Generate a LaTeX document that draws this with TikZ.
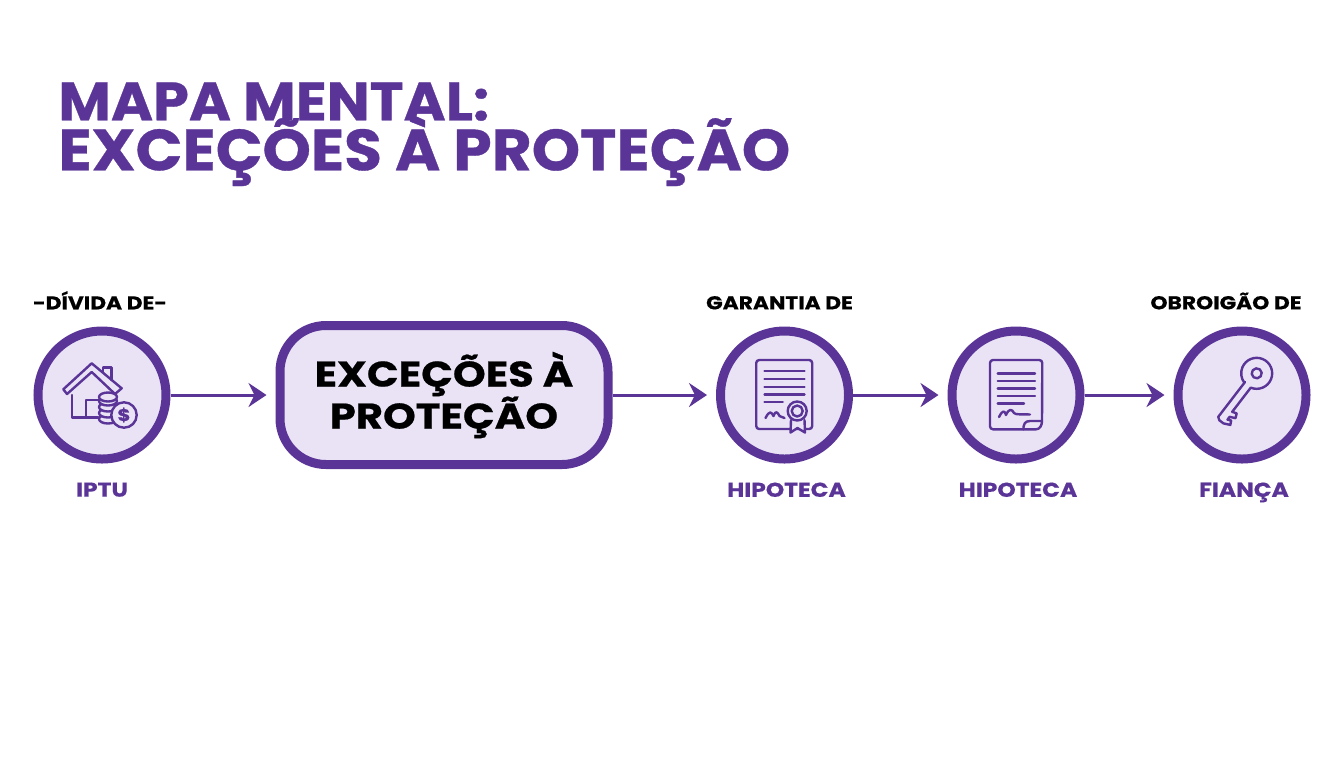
\documentclass[tikz,border=0pt]{standalone}
\usepackage{fontspec}
\setmainfont[FakeStretch=1.17, BoldFeatures={FakeBold=.6}]{Poppins}
\newfontfamily\fontetitulo[FakeStretch=1.06, BoldFeatures={FakeBold=.6}]{Poppins}
\setlength{\lineskiplimit}{-30pt}
\usetikzlibrary{positioning, arrows.meta}
\definecolor{roxo}{HTML}{5A3496}
\definecolor{lilas}{HTML}{E9E3F5}
\tikzset{
    every node/.style={font=\bfseries}, % All text is bold
    circulo/.style={ % Sets the properties for each ring
        circle,
        draw=roxo,
        line width=4.5pt,
        fill=lilas,
        minimum size=64pt,
        inner sep=0pt
    },
    central/.style={ % The big box in the middle
        rectangle,
        rounded corners=23pt,
        draw=roxo,
        line width=4.5pt,
        fill=lilas,
        minimum width=164pt,
        minimum height=69.5pt,
        align=center,
        inner sep=0pt,
        font=\bfseries\fontsize{17.8}{21}\selectfont
    },
    rotulo/.style={ % Black text above a ring
        font=\bfseries\fontsize{9.3}{11}\selectfont,
        text=black
    },
    nome/.style={ % Purple text below a ring
        font=\bfseries\fontsize{10}{12}\selectfont,
        text=roxo
    },
    titulo/.style={
        font=\fontetitulo\bfseries\fontsize{29}{25}\selectfont,
        text=roxo,
        align=left,
        inner sep=0pt
    },
    seta/.style={
        draw=roxo,
        line width=1.5pt,
        -{Stealth[length=9pt, width=12pt, inset=3pt]},
        shorten >=4.5pt
    },
    traco/.style={draw=roxo, line width=1.2pt, line cap=round, line join=round},
    pics/casa/.style={code={
        \begin{scope}[x=.5pt, y=-.5pt, traco]
            \draw (-38.7,-5.7) -- (-10.3,-31.7) -- (19.7,-6.7) -- (13,-1) -- (-10.3,-23) -- (-35,-1) -- cycle;
            \draw (.7,-23.5) -- (.7,-27.7) -- (9.3,-27.7) -- (9.3,-15);
            \draw (-30,0) -- (-30,22.3) -- (-3.7,22.3);
            \draw (-16,22.3) -- (-16,5) -- (-3,5);
            \foreach \y in {24,18,12,6,2} {
                \draw[fill=lilas] (6,\y) ellipse (9 and 4.5);
            }
            \draw[fill=lilas] (22,20) circle (12.7);
            \node[text=roxo, inner sep=0pt, font=\bfseries\fontsize{8.5}{10}\selectfont] (cifrao) at (22,20) {\$};
        \end{scope}
    }},
    pics/certidao/.style={code={
        \begin{scope}[x=.5pt, y=-.5pt, traco]
            \draw[rounded corners=1.5pt] (-28.3,-35) rectangle (27.7,34);
            \foreach \y in {-24,-16.3,-8.3,-.7} {
                \draw (-20,\y) -- (20,\y);
            }
            \draw (-20,6.7) -- (-1.7,6.7);
            \draw (-19,23) .. controls (-15,15) and (-13,17) .. (-11,21) .. controls (-9,15) and (-7,17) .. (-5,21) -- (0,23);
            \draw[fill=lilas] (6.5,25) -- (6,37.5) -- (13,33) -- (20.5,37.5) -- (20,25);
            \draw[fill=lilas] (12.7,16) circle (9.5);
            \draw (12.7,16) circle (5.5);
        \end{scope}
    }},
    pics/contrato/.style={code={
        \begin{scope}[x=.5pt, y=-.5pt, traco]
            \draw[rounded corners=1.5pt] (26,26) -- (26.3,-35) -- (-26,-35) -- (-26,34.3) -- (7.3,34.3);
            \draw (7.3,34.3) .. controls (7.5,29) and (9,26) .. (14,26) -- (26,26) .. controls (26,30) and (24,34.3) .. (20,34.3) -- (7.3,34.3);
            \foreach \y in {-21.7,-14,-6.7,1} {
                \draw (-18.3,\y) -- (19,\y);
            }
            \draw (-18.3,8.3) -- (8,8.3);
            \draw (-17,22) .. controls (-13,14) and (-11,16) .. (-10,20) .. controls (-7,13) and (-4,14) .. (-2,18) .. controls (0,20) and (5,19) .. (14,19.5);
        \end{scope}
    }},
    pics/chave/.style={code={
        \begin{scope}[shift={(7.35pt,10.85pt)}, rotate=232.5, x=.5pt, y=.5pt, traco]
            \draw (14,-4) -- (58,-4) -- (60,-1) -- (60,4) -- (57,10.5) -- (53,8.5) -- (54.5,5) -- (51,5) -- (48.5,10.5) -- (44,8.5) -- (45.5,4) -- (15,4)
                arc[start angle=15, end angle=345, radius=15.5];
            \draw (0,0) circle (5);
        \end{scope}
    }}
}
\begin{document}
\begin{tikzpicture}[x=.5pt, y=-.5pt]
    \useasboundingbox (0,0) rectangle (1344,768);
    \node[titulo, anchor=north west] (titulo) at (58,82) {{\fontsize{27}{25}\selectfont MAPA MENTAL:}\\EXCEÇÕES À PROTEÇÃO};

    \node[circulo] (iptu) at (102,395) {};
    \node[central, right=52.5pt of iptu] (excecoes) {EXCEÇÕES À\\PROTEÇÃO};
    \node[circulo, right=51.75pt of excecoes] (garantia) {};
    \node[circulo, right=47.25pt of garantia] (hipoteca) {};
    \node[circulo, right=44.5pt of hipoteca] (fianca) {};

    \node[rotulo, above=5pt of iptu, xshift=-1pt] (dividade) {-DÍVIDA DE-};
    \node[rotulo, above=5pt of garantia, xshift=-2.5pt] (garantiade) {GARANTIA DE};
    \node[rotulo, above=5pt of fianca, xshift=-8pt] (obrigacaode) {OBROIGÃO DE};

    \node[nome, below=6pt of iptu] (nomeiptu) {IPTU};
    \node[nome, below=6pt of garantia, xshift=1pt] (nomegarantia) {HIPOTECA};
    \node[nome, below=6pt of hipoteca, xshift=1pt] (nomehipoteca) {HIPOTECA};
    \node[nome, below=6pt of fianca, xshift=1pt] (nomefianca) {FIANÇA};

    \pic at (iptu) {casa};
    \pic at (garantia) {certidao};
    \pic at (hipoteca) {contrato};
    \pic at (fianca) {chave};

    \draw[seta] (iptu) -- (excecoes);
    \draw[seta] (excecoes) -- (garantia);
    \draw[seta] (garantia) -- (hipoteca);
    \draw[seta] (hipoteca) -- (fianca);
\end{tikzpicture}
\end{document}
